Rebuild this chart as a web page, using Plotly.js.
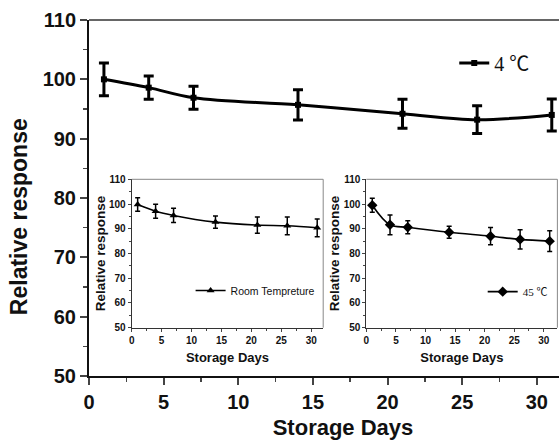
<!DOCTYPE html>
<html>
<head>
<meta charset="utf-8">
<script src="https://cdn.plot.ly/plotly-3.0.1.min.js"></script>
<style>
html,body{margin:0;padding:0;overflow:hidden;background:#fff;width:559px;height:440px;}
#chart{width:600px;height:440px;}
</style>
</head>
<body>
<div id="chart"></div>
<script>
// Storage days
const days = [1, 4, 7, 14, 21, 26, 31];
// Main chart: 4 °C
const main4C = [100, 98.6, 96.9, 95.7, 94.2, 93.2, 94.0];
const main4CErr = [2.75, 1.95, 1.95, 2.55, 2.45, 2.35, 2.7];
// Inset: room temperature
const roomTemp = [99.8, 97.1, 95.4, 92.7, 91.5, 91.2, 90.4];
const roomTempErr = [2.7, 2.8, 2.9, 2.5, 3.3, 3.6, 3.6];
// Inset: 45 °C
const temp45 = [99.5, 91.6, 90.6, 88.6, 87.0, 85.7, 85.0];
const temp45Err = [2.8, 4.0, 2.65, 2.45, 3.5, 3.9, 4.2];
// Labels
const mainLegend = '4 \u2103';
const roomLegend = 'Room Tempreture';
const hotLegend = '45 \u2103';
const xTitle = 'Storage Days';
const yTitle = 'Relative response';

const sans = 'Liberation Sans, Arial, sans-serif';
const serif = 'Liberation Serif, Times New Roman, Noto Sans CJK SC, serif';

const traces = [
  {
    x: days, y: main4C, type: 'scatter', mode: 'lines+markers', name: mainLegend,
    line: {shape: 'spline', smoothing: 1, color: '#000', width: 3},
    marker: {symbol: 'square', size: 6, color: '#000'},
    error_y: {type: 'data', array: main4CErr, visible: true, color: '#000', thickness: 3, width: 5},
    xaxis: 'x', yaxis: 'y', legend: 'legend'
  },
  {
    x: days, y: roomTemp, type: 'scatter', mode: 'lines+markers', name: roomLegend,
    line: {shape: 'spline', smoothing: 1, color: '#000', width: 1.6},
    marker: {symbol: 'triangle-up', size: 7, color: '#000'},
    error_y: {type: 'data', array: roomTempErr, visible: true, color: '#000', thickness: 1.5, width: 2.5},
    xaxis: 'x2', yaxis: 'y2', legend: 'legend2'
  },
  {
    x: days, y: temp45, type: 'scatter', mode: 'lines+markers', name: hotLegend,
    line: {shape: 'spline', smoothing: 1, color: '#000', width: 1.6},
    marker: {symbol: 'diamond', size: 8, color: '#000'},
    error_y: {type: 'data', array: temp45Err, visible: true, color: '#000', thickness: 1.5, width: 2.5},
    xaxis: 'x3', yaxis: 'y3', legend: 'legend3'
  }
];

const insetDomX1 = [0.084, 0.461];
const insetDomX2 = [0.546, 0.922];
const insetDomY = [0.1357, 0.5525];
const insetX = (dom, anchor, maxX) => ({
  domain: dom, range: [0, maxX], anchor: anchor,
  tickmode: 'linear', tick0: 0, dtick: 5, ticks: 'outside', ticklen: 3, tickwidth: 1,
  minor: {dtick: 2.5, ticks: 'outside', ticklen: 2, tickwidth: 1},
  showline: true, linecolor: '#333', linewidth: 1, showgrid: false, zeroline: false,
  tickfont: {family: sans, size: 10, color: '#111', weight: 'bold'},
  title: {text: xTitle, font: {family: sans, size: 13, color: '#111', weight: 'bold'}, standoff: 8},
  automargin: false, fixedrange: true
});
const insetY = (anchor) => ({
  domain: insetDomY, range: [50, 110], anchor: anchor,
  tickmode: 'linear', tick0: 50, dtick: 10, ticks: 'outside', ticklen: 3, tickwidth: 1,
  minor: {dtick: 5, ticks: 'outside', ticklen: 2, tickwidth: 1},
  showline: true, linecolor: '#333', linewidth: 1, showgrid: false, zeroline: false,
  tickfont: {family: sans, size: 10, color: '#111', weight: 'bold'},
  title: {text: yTitle, font: {family: sans, size: 13.5, color: '#111', weight: 'bold'}, standoff: 0},
  automargin: false, fixedrange: true
});

const layout = {
  width: 600, height: 440,
  margin: {l: 89, r: 3, t: 20, b: 64},
  paper_bgcolor: '#fff', plot_bgcolor: '#fff',
  showlegend: true,
  xaxis: {
    domain: [0, 1], range: [0, 34.03], anchor: 'y',
    tickmode: 'linear', tick0: 0, dtick: 5, ticks: 'outside', ticklen: 7, tickwidth: 2,
    minor: {dtick: 2.5, ticks: 'outside', ticklen: 4, tickwidth: 1.5},
    showline: true, linecolor: '#111', linewidth: 2, showgrid: false, zeroline: false,
    tickfont: {family: sans, size: 20, color: '#111', weight: 'bold'},
    title: {text: xTitle, font: {family: sans, size: 22, color: '#111', weight: 'bold'}, standoff: 10},
    automargin: false, fixedrange: true
  },
  yaxis: {
    domain: [0, 1], range: [50, 110], anchor: 'x',
    tickmode: 'linear', tick0: 50, dtick: 10, ticks: 'outside', ticklen: 7, tickwidth: 2,
    minor: {dtick: 5, ticks: 'outside', ticklen: 4, tickwidth: 1.5},
    showline: true, linecolor: '#111', linewidth: 2, showgrid: false, zeroline: false,
    tickfont: {family: sans, size: 20, color: '#111', weight: 'bold'},
    automargin: false, fixedrange: true
  },
  xaxis2: insetX(insetDomX1, 'y2', 32), yaxis2: insetY('x2'),
  xaxis3: insetX(insetDomX2, 'y3', 32.3), yaxis3: insetY('x3'),
  legend: {
    x: 0.719, y: 0.879, xanchor: 'left', yanchor: 'middle', bgcolor: 'rgba(0,0,0,0)',
    font: {family: serif, size: 20, color: '#111'}
  },
  legend2: {
    x: 0.2, y: 0.24, xanchor: 'left', yanchor: 'middle', bgcolor: 'rgba(0,0,0,0)',
    font: {family: sans, size: 10.5, color: '#111'}
  },
  legend3: {
    x: 0.775, y: 0.237, xanchor: 'left', yanchor: 'middle', bgcolor: 'rgba(0,0,0,0)',
    font: {family: serif, size: 11, color: '#111'}
  },
  annotations: [
    {text: yTitle, xref: 'paper', yref: 'paper', x: -0.1378, y: 0.449, xanchor: 'center', yanchor: 'middle',
     textangle: -90, showarrow: false, font: {family: sans, size: 23, color: '#111', weight: 'bold'}}
  ],
  shapes: [
    {type: 'line', xref: 'paper', yref: 'paper', x0: 0, x1: 1, y0: 1, y1: 1, line: {color: '#333', width: 1.3}},
    {type: 'line', xref: 'x2 domain', yref: 'y2 domain', x0: 0, x1: 1, y0: 1, y1: 1, line: {color: '#888', width: 1}},
    {type: 'line', xref: 'x2 domain', yref: 'y2 domain', x0: 1, x1: 1, y0: 0, y1: 1, line: {color: '#888', width: 1}},
    {type: 'line', xref: 'x3 domain', yref: 'y3 domain', x0: 0, x1: 1, y0: 1, y1: 1, line: {color: '#888', width: 1}},
    {type: 'line', xref: 'x3 domain', yref: 'y3 domain', x0: 1, x1: 1, y0: 0, y1: 1, line: {color: '#888', width: 1}}
  ]
};

Plotly.newPlot('chart', traces, layout, {displayModeBar: false, staticPlot: true});
</script>
</body>
</html>
